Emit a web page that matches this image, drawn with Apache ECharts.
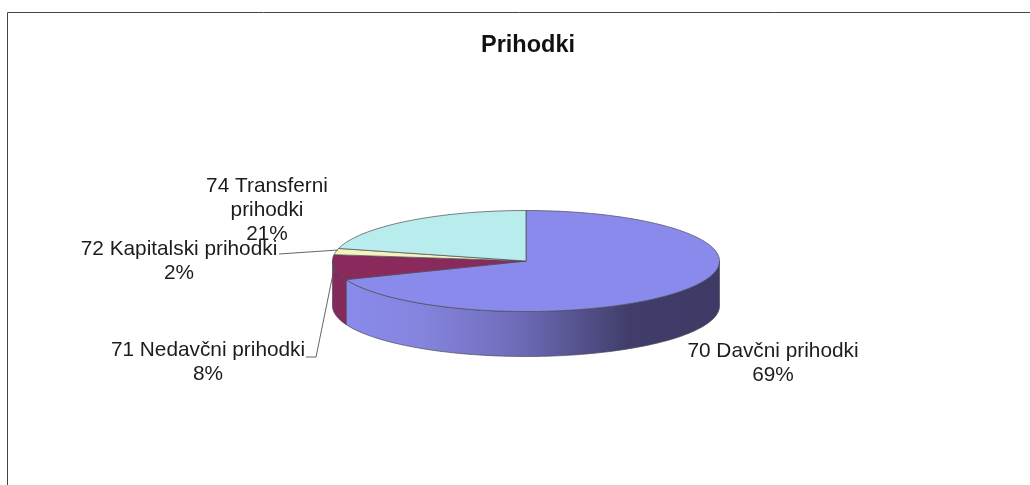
<!DOCTYPE html>
<html><head><meta charset="utf-8">
<style>html,body{margin:0;padding:0;background:#fff}#c{width:1030px;height:485px}</style>
<script src="https://cdn.jsdelivr.net/npm/echarts@6/dist/echarts.min.js"></script>
</head><body><div id="c"></div>
<script>
const titleText = 'Prihodki';
const categories = ['70 Davčni prihodki', '71 Nedavčni prihodki', '72 Kapitalski prihodki', '74 Transferni\nprihodki'];
const values = [69, 8, 2, 21];
const colors = ['#8a8aec', '#8a2a5c', '#f5f2bf', '#b9ecec'];
const sideColors = [null, '#842a5c', '#c9c69c', '#98c2c2'];
const labelPos = [[773, 363], [208, 362], [179, 261], [267, 210]];
const leaderFrom = [null, [306, 357], [279, 254], null];
const leaderElbow = [null, [316, 357], null, null];
const leaderEnd = [null, [334, 269], [338, 250], null];

const total = values.reduce((a, b) => a + b, 0);
const cx = 526, cy = 261, rx = 193.5, ry = 50.5, depth = 45;
const pt = (deg, dy) => {
  const t = deg * Math.PI / 180;
  return [cx + rx * Math.sin(t), cy - ry * Math.cos(t) + (dy || 0)];
};
const arc = (a, b, dy) => {
  const out = [];
  const n = Math.max(2, Math.ceil(Math.abs(b - a) / 1.5));
  for (let i = 0; i <= n; i++) out.push(pt(a + (b - a) * i / n, dy));
  return out;
};
const starts = [];
values.reduce((acc, v, i) => { starts[i] = acc; return acc + v; }, 0);
const edge = { stroke: '#4a4a55', lineWidth: 0.7 };

const blueSide = {
  type: 'linear', global: true, x: 346, y: 0, x2: 720, y2: 0,
  colorStops: [
    { offset: 0, color: '#8a8aec' }, { offset: 0.2, color: '#8584de' },
    { offset: 0.45, color: '#6f6dba' }, { offset: 0.76, color: '#403d6a' },
    { offset: 1, color: '#3d3a66' }
  ]
};

function renderItem(params, api) {
  const i = params.dataIndex;
  const a = starts[i] / total * 360;
  const b = (starts[i] + api.value(0)) / total * 360;
  const children = [];
  const sa = Math.max(a, 90), sb = Math.min(b, 270);
  if (sb > sa) {
    children.push({
      type: 'polygon',
      shape: { points: arc(sa, sb, 0).concat(arc(sb, sa, depth)) },
      style: Object.assign({ fill: i === 0 ? blueSide : sideColors[i] }, edge)
    });
  }
  children.push({
    type: 'polygon',
    shape: { points: [[cx, cy]].concat(arc(a, b, 0)) },
    style: Object.assign({ fill: colors[i] }, edge)
  });
  return { type: 'group', children };
}

function renderLabels(params, api) {
  const i = params.dataIndex;
  const pct = Math.round(api.value(0) / total * 100);
  const children = [];
  if (leaderFrom[i]) {
    const pts = [leaderFrom[i]];
    if (leaderElbow[i]) pts.push(leaderElbow[i]);
    pts.push(leaderEnd[i]);
    children.push({ type: 'polyline', shape: { points: pts }, style: { fill: null, stroke: '#555', lineWidth: 0.9 } });
  }
  children.push({
    type: 'text', x: labelPos[i][0], y: labelPos[i][1],
    style: {
      text: categories[i] + '\n' + pct + '%',
      x: 0, y: 0, align: 'center', verticalAlign: 'middle',
      fontFamily: '"Liberation Sans", Arial, sans-serif', fontSize: 20.8, lineHeight: 24, fill: '#1c1c1c'
    }
  });
  return { type: 'group', children };
}

const data = values.map((v, i) => ({ name: categories[i], value: [v] }));
const chart = echarts.init(document.getElementById('c'), null, { renderer: 'canvas' });
chart.setOption({
  animation: false,
  backgroundColor: '#fff',
  graphic: [{
    type: 'polyline', silent: true,
    shape: { points: [[7.5, 486], [7.5, 12.5], [1031, 12.5]] },
    style: { fill: null, stroke: '#444', lineWidth: 1 }
  }, {
    type: 'text', silent: true, x: 528, y: 46,
    style: {
      text: titleText, align: 'center', verticalAlign: 'middle',
      fontFamily: '"Liberation Sans", Arial, sans-serif', fontSize: 23.5, fontWeight: 'bold', fill: '#111'
    }
  }],
  series: [
    { type: 'custom', coordinateSystem: 'none', renderItem, data, silent: true, z: 2 },
    { type: 'custom', coordinateSystem: 'none', renderItem: renderLabels, data, silent: true, z: 3 }
  ]
});
</script></body></html>
